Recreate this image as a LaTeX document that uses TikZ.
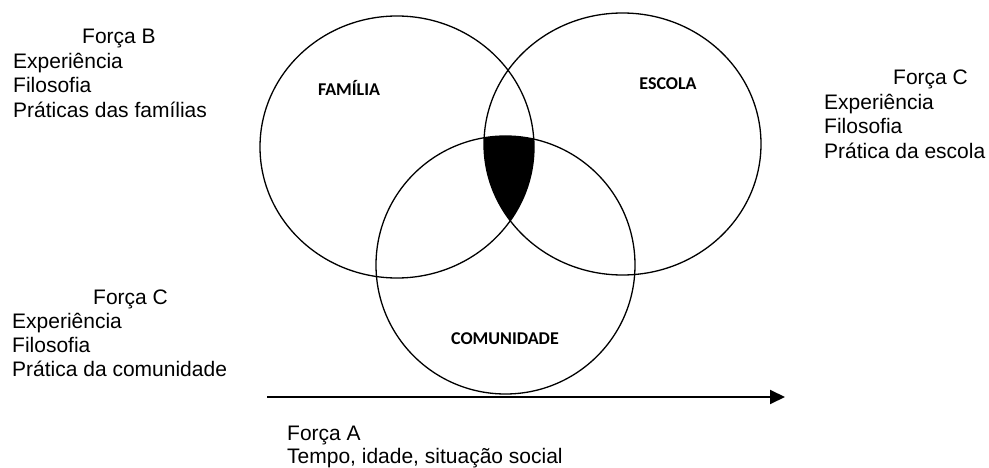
\documentclass[tikz,border=0pt]{standalone}
\usepackage{fontspec}
\setmainfont{Liberation Sans}
\newfontfamily\calib{Carlito}
\usetikzlibrary{arrows.meta}
\begin{document}
\begin{tikzpicture}[x=1pt,y=-1pt,
  ring/.style={draw=black,line width=1.3pt},
  lbl/.style={font=\calib\bfseries\fontsize{18}{21}\selectfont,inner sep=0pt},
  txt/.style={font=\fontsize{21}{24.5}\selectfont,inner sep=0pt,anchor=base west},
  axis/.style={line width=2pt,-{Triangle[length=15pt,width=14pt]}}]
\useasboundingbox (0,0) rectangle (989,468);
% intersection fill
\begin{scope}
  \clip (397,147) ellipse [x radius=137, y radius=131];
  \clip (622.5,144) ellipse [x radius=138.5, y radius=131];
  \fill[black] (505.5,265) ellipse [x radius=129.5, y radius=129];
\end{scope}
\draw[ring] (397,147) ellipse [x radius=137, y radius=131];
\draw[ring] (622.5,144) ellipse [x radius=138.5, y radius=131];
\draw[ring] (505.5,265) ellipse [x radius=129.5, y radius=129];
\node[lbl] (fam) at (349,88) {FAMÍLIA};
\node[lbl] (esc) at (668,84) {ESCOLA};
\node[lbl] (com) at (505,339) {COMUNIDADE};
% Forca B
\node[txt] (fb) at (82,44) {Força B};
\node[txt] (fb1) at (13,68.5) {Experiência};
\node[txt] (fb2) at (13,93) {Filosofia};
\node[txt] (fb3) at (13,117.5) {Práticas das famílias};
% Forca C right
\node[txt] (fc) at (893,85) {Força C};
\node[txt] (fc1) at (824,109.5) {Experiência};
\node[txt] (fc2) at (824,134) {Filosofia};
\node[txt] (fc3) at (824,158.5) {Prática da escola};
% Forca C left
\node[txt] (fd) at (93,304.5) {Força C};
\node[txt] (fd1) at (12,328.5) {Experiência};
\node[txt] (fd2) at (12,352) {Filosofia};
\node[txt] (fd3) at (12,376) {Prática da comunidade};
% Forca A
\node[txt] (fa) at (287,440) {Força A};
\node[txt] (fa1) at (287,463) {Tempo, idade, situação social};
% axis
\coordinate (a0) at (267,397);
\coordinate (a1) at (785,397);
\draw[axis] (a0) -- (a1);
\end{tikzpicture}
\end{document}
